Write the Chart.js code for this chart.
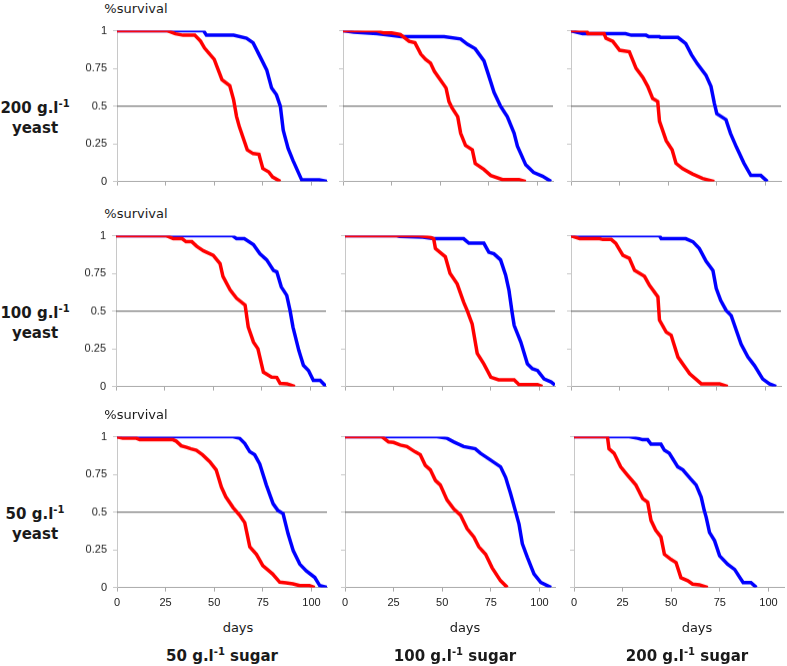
<!DOCTYPE html>
<html>
<head>
<meta charset="utf-8">
<script src="https://cdn.jsdelivr.net/npm/chart.js@4.4.0/dist/chart.umd.min.js"></script>
<style>
  body { margin: 0; background: #fff; width: 787px; height: 666px; position: relative; overflow: hidden; }
  .lab { position: absolute; transform: translate(-50%, -50%); white-space: nowrap; color: #1a1a1a; }
  .axt { font: 13px "DejaVu Sans", sans-serif; }
  .big { font: bold 15px "DejaVu Sans", sans-serif; text-align: center; line-height: 20px; }
  .big sup { font-size: 10px; vertical-align: 6px; line-height: 0; }
</style>
</head>
<body>
<script>
// days vs fraction surviving; red and blue curve per panel
// rows = yeast 200/100/50 g/l, cols = sugar 50/100/200 g/l
const y200s50Red = [[0,1],[26,1],[30,0.98],[34,0.97],[40,0.97],[43,0.93],[45,0.885],[50,0.81],[54,0.675],[58,0.635],[60,0.54],[61.5,0.43],[63,0.36],[67,0.21],[70,0.185],[73,0.18],[75,0.086],[78,0.064],[80,0.03],[84,0]];
const y200s50Blue = [[0,1],[44.5,1],[46,0.97],[60,0.97],[66.6,0.95],[70,0.92],[73.5,0.83],[77,0.74],[79.5,0.62],[82,0.575],[84,0.5],[85.5,0.34],[88,0.22],[90.5,0.14],[95,0.01],[104,0.01],[108,0]];
const y200s100Red = [[0,1],[17.5,1],[21,0.985],[25,0.985],[29.5,0.975],[31,0.96],[34,0.93],[37,0.92],[40,0.845],[42.5,0.81],[45,0.785],[47,0.73],[53,0.62],[54.5,0.53],[56,0.49],[59,0.43],[60.5,0.32],[63,0.24],[66.5,0.21],[68,0.12],[72.5,0.08],[76,0.04],[82,0.013],[90.5,0.013],[94,0]];
const y200s100Blue = [[0,1],[5.5,0.99],[17.5,0.98],[24,0.97],[30,0.96],[52,0.96],[60.5,0.945],[64,0.91],[68,0.88],[72.5,0.8],[75,0.7],[77.7,0.59],[81,0.5],[84.5,0.43],[88,0.32],[89.7,0.235],[94,0.11],[98,0.06],[102.6,0.035],[107,0]];
const y200s200Red = [[0,1],[8,1],[8.7,0.98],[17,0.98],[18,0.95],[21.5,0.93],[25,0.87],[30,0.86],[33.5,0.75],[37,0.69],[39.5,0.63],[42,0.55],[44.6,0.53],[45.5,0.4],[49,0.27],[52,0.21],[54,0.12],[57.4,0.085],[62.5,0.05],[67.7,0.02],[73.7,0]];
const y200s200Blue = [[0,1],[6,0.98],[28,0.98],[31,0.97],[38.6,0.97],[40,0.96],[45.5,0.96],[46,0.955],[55,0.955],[59,0.915],[62,0.84],[65,0.78],[69.4,0.705],[72,0.63],[73.7,0.52],[75,0.45],[79.7,0.41],[82,0.32],[85,0.23],[89,0.12],[92.5,0.04],[97.6,0.04],[101,0]];

const y100s50Red = [[0,1],[26,1],[29.5,0.98],[34,0.98],[36,0.96],[39,0.96],[41.5,0.93],[45,0.9],[50,0.87],[53.5,0.815],[55,0.73],[58.7,0.64],[62,0.585],[66.4,0.54],[68,0.395],[70.7,0.295],[73,0.25],[75.8,0.095],[80,0.062],[82.7,0.06],[84.4,0.02],[88,0.018],[92,0]];
const y100s50Blue = [[0,1],[60,1],[62,0.98],[66,0.98],[70.7,0.94],[74,0.88],[77.5,0.84],[81,0.77],[82.7,0.76],[85,0.66],[87.8,0.605],[89.5,0.505],[91,0.395],[94,0.24],[96.4,0.14],[99,0.106],[101.5,0.04],[105,0.04],[108,0]];
const y100s100Red = [[0,1],[38,1],[44,0.99],[45.6,0.98],[46.5,0.915],[51.6,0.86],[54,0.75],[57.7,0.68],[61,0.56],[62.8,0.505],[65.4,0.415],[68,0.22],[71.4,0.15],[75,0.062],[79,0.044],[87,0.044],[89.5,0.013],[99,0.013],[101.5,0]];
const y100s100Blue = [[0,1],[26.7,1],[28,0.995],[40,0.99],[45.6,0.98],[61,0.98],[63.7,0.95],[71.4,0.95],[74,0.89],[76.6,0.88],[80,0.84],[82.6,0.74],[84.3,0.64],[86,0.485],[87,0.405],[90.4,0.295],[93.8,0.15],[96.4,0.118],[99,0.106],[102.4,0.05],[106,0.03],[108,0.01]];
const y100s200Red = [[0,1],[4.5,0.98],[14.7,0.98],[16.4,0.975],[20.7,0.975],[23,0.95],[26.7,0.87],[30,0.85],[32.7,0.77],[37.8,0.73],[40.4,0.67],[44.7,0.595],[45.5,0.44],[49,0.36],[51.5,0.34],[55,0.195],[61,0.085],[67,0.018],[76.4,0.018],[80.6,0]];
const y100s200Blue = [[0,1],[45.5,1],[46.4,0.98],[59,0.98],[62.7,0.96],[66,0.915],[69.5,0.83],[73,0.77],[74.7,0.65],[77,0.57],[79.8,0.505],[82.4,0.47],[87.5,0.28],[91,0.195],[94.3,0.14],[98.6,0.05],[102,0.018],[105.5,0]];

const y50s50Red = [[0,1],[3,0.99],[10,0.99],[11.7,0.98],[28.8,0.98],[30.5,0.97],[33,0.94],[35.7,0.93],[38,0.92],[40.8,0.91],[44,0.88],[47.7,0.835],[51,0.78],[53.7,0.665],[56,0.6],[59.7,0.53],[63,0.48],[65.7,0.43],[68.3,0.27],[71.7,0.22],[75,0.145],[80,0.09],[83.7,0.035],[87,0.03],[90.5,0.024],[94,0.012],[99,0.012],[101.7,0]];
const y50s50Blue = [[0,1],[59.7,1],[63,0.99],[65.7,0.955],[68.3,0.9],[70.8,0.88],[73.4,0.82],[76.8,0.68],[80.3,0.555],[82.8,0.51],[85.4,0.49],[88,0.355],[90.6,0.245],[94,0.155],[97.4,0.11],[101.7,0.067],[104.3,0.012],[108,0]];
const y50s100Red = [[0,1],[19,1],[22.4,0.965],[25,0.962],[28.4,0.945],[31.8,0.935],[36,0.9],[38.7,0.88],[41.3,0.81],[43.9,0.78],[46.5,0.71],[49,0.68],[52.5,0.58],[56,0.52],[59.4,0.48],[62.8,0.39],[66.3,0.335],[68.8,0.27],[72.3,0.22],[75.7,0.13],[80,0.045],[83.5,0]];
const y50s100Blue = [[0,1],[47.3,1],[52.5,0.99],[56,0.965],[61,0.935],[67,0.92],[69.7,0.89],[74.9,0.845],[80,0.8],[82.6,0.73],[85.2,0.62],[87.8,0.5],[89.5,0.42],[91.2,0.29],[93.8,0.2],[97.2,0.09],[100.7,0.033],[106,0]];
const y50s200Red = [[0,1],[17.2,1],[18,0.92],[20.6,0.89],[24,0.8],[27.5,0.745],[31.8,0.68],[35.3,0.59],[37.9,0.565],[39.6,0.445],[42,0.38],[44.7,0.335],[46.5,0.22],[50,0.185],[52.5,0.165],[55,0.065],[58.5,0.045],[61,0.022],[64.5,0.018],[68.8,0]];
const y50s200Blue = [[0,1],[28.4,1],[32.7,0.99],[35.3,0.98],[37.9,0.98],[39.6,0.95],[44.7,0.95],[46.5,0.91],[49,0.89],[53.4,0.8],[56,0.78],[60,0.72],[62.8,0.68],[65.4,0.6],[67,0.51],[68,0.465],[69.7,0.365],[72.3,0.31],[74.9,0.21],[79,0.155],[82.6,0.12],[87,0.033],[91,0.033],[93.8,0]];

const halfLine = [[0,0.5],[108,0.5]];
const yeastLabels = ['200', '100', '50'];
const sugarLabels = ['50', '100', '200'];
const xTicks = [0, 25, 50, 75, 100];
const yTicks = [0, 0.25, 0.5, 0.75, 1];
const dayMax = 108;

const panels = [
  [[y200s50Red, y200s50Blue], [y200s100Red, y200s100Blue], [y200s200Red, y200s200Blue]],
  [[y100s50Red, y100s50Blue], [y100s100Red, y100s100Blue], [y100s200Red, y100s200Blue]],
  [[y50s50Red, y50s50Blue], [y50s100Red, y50s100Blue], [y50s200Red, y50s200Blue]]
];

// where each plot area sits on the page
const plotLeft = [[117, 343, 571], [116, 345, 571], [117, 345, 574]];
const plotTop = [31, 236, 437];
const plotW = 210, plotH = 150;
const axW = 40, axH = 22;

const toXY = arr => arr.map(([x, y]) => ({ x, y }));
const tickFont = { family: 'Liberation Sans', size: 11 };
const hidden = 'rgba(0,0,0,0)';

function label(html, cx, cy, cls) {
  const d = document.createElement('div');
  d.className = 'lab ' + cls;
  d.innerHTML = html;
  d.style.left = cx + 'px';
  d.style.top = cy + 'px';
  document.body.appendChild(d);
}

function line(data, color, width) {
  return { data: toXY(data), borderColor: color, borderWidth: width, pointRadius: 0, tension: 0, fill: false };
}

function makePanel(r, c) {
  const [red, blue] = panels[r][c];
  const cv = document.createElement('canvas');
  const w = axW + plotW + 8, h = plotH + axH + 16;
  cv.width = w; cv.height = h;
  cv.style.position = 'absolute';
  document.body.appendChild(cv);

  const chart = new Chart(cv, {
    type: 'line',
    data: {
      datasets: [
        line(red, '#ff0000', 3.5),
        line(blue, '#0000ff', 3.5),
        line(halfLine, '#7a7a7a', 1.3)
      ]
    },
    options: {
      responsive: false,
      maintainAspectRatio: false,
      animation: false,
      events: [],
      layout: { padding: { top: 2, right: 6, left: 0, bottom: 0 } },
      plugins: { legend: { display: false }, tooltip: { enabled: false } },
      scales: {
        x: {
          type: 'linear', min: 0, max: dayMax,
          afterBuildTicks: s => { s.ticks = xTicks.map(v => ({ value: v })); },
          afterFit: s => { s.height = axH; },
          grid: { drawOnChartArea: false, drawTicks: true, tickLength: 4, color: '#aaa' },
          border: { color: '#aaa' },
          ticks: { padding: 5, font: tickFont, color: r === 2 ? '#222' : hidden, maxRotation: 0, autoSkip: false }
        },
        y: {
          min: 0, max: 1,
          afterBuildTicks: s => { s.ticks = yTicks.map(v => ({ value: v })); },
          afterFit: s => { s.width = axW; },
          grid: { drawOnChartArea: false, drawTicks: true, tickLength: 4, color: '#c8c8c8' },
          border: { color: '#c8c8c8' },
          ticks: { padding: 6, font: tickFont, color: c === 0 ? '#222' : hidden, callback: v => String(v) }
        }
      }
    }
  });

  // size the canvas so the plot area is exactly plotW x plotH, then place it
  let a = chart.chartArea;
  const dw = plotW - (a.right - a.left), dh = plotH - (a.bottom - a.top);
  if (Math.abs(dw) > 0.01 || Math.abs(dh) > 0.01) chart.resize(w + dw, h + dh);
  a = chart.chartArea;
  cv.style.left = (plotLeft[r][c] - a.left) + 'px';
  cv.style.top = (plotTop[r] - a.top) + 'px';
}

for (let r = 0; r < 3; r++) {
  for (let c = 0; c < 3; c++) makePanel(r, c);
  label('%survival', 136, plotTop[r] - 23, 'axt');
  label(yeastLabels[r] + ' g.l<sup>-1</sup><br>yeast', 35, plotTop[r] + 87, 'big');
}
const sugarX = [222, 455, 687];
const daysX = [238, 465, 697];
for (let c = 0; c < 3; c++) {
  label('days', daysX[c], 627, 'axt');
  label(sugarLabels[c] + ' g.l<sup>-1</sup> sugar', sugarX[c], 656, 'big');
}
</script>
</body>
</html>
